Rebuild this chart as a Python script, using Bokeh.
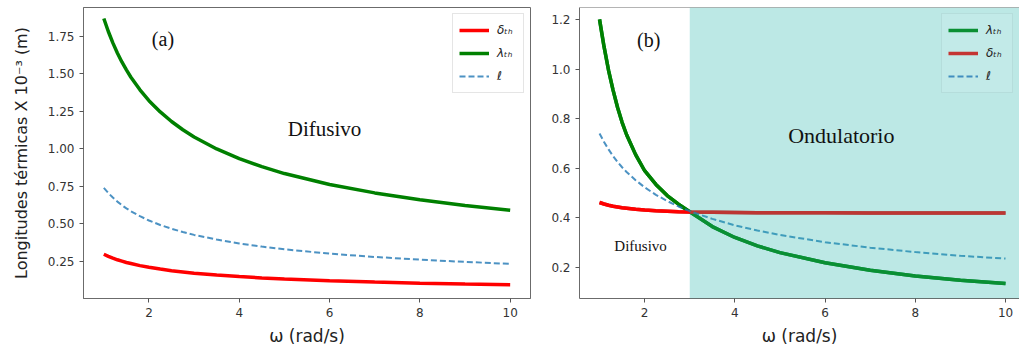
from bokeh.plotting import figure
from bokeh.layouts import row
from bokeh.models import (BoxAnnotation, Label, FixedTicker, PrintfTickFormatter, Span,
                          Legend, LegendItem)
from bokeh.embed import file_html
from bokeh.resources import INLINE

# ---- data ----
omega = [1, 1.1, 1.2, 1.3, 1.4, 1.5, 1.6, 1.8, 2, 2.25, 2.5, 2.75, 3,
         3.5, 4, 4.5, 5, 6, 7, 8, 9, 10]

# panel (a)
delta_a = [0.298, 0.284, 0.272, 0.261, 0.252, 0.243, 0.236, 0.222, 0.211, 0.199, 0.188,
           0.180, 0.172, 0.159, 0.149, 0.140, 0.133, 0.122, 0.113, 0.105, 0.099, 0.094]
lambda_a = [1.870, 1.783, 1.707, 1.640, 1.580, 1.527, 1.478, 1.394, 1.322, 1.247, 1.183,
            1.128, 1.080, 1.000, 0.935, 0.882, 0.836, 0.763, 0.707, 0.661, 0.623, 0.591]
ell_a = [0.740, 0.706, 0.676, 0.649, 0.625, 0.604, 0.585, 0.552, 0.523, 0.493, 0.468,
         0.446, 0.427, 0.396, 0.370, 0.349, 0.331, 0.302, 0.280, 0.262, 0.247, 0.234]

# panel (b)
lambda_b = [1.200, 1.090, 0.995, 0.915, 0.845, 0.785, 0.735, 0.655, 0.590, 0.535, 0.490,
            0.455, 0.425, 0.365, 0.321, 0.287, 0.260, 0.219, 0.189, 0.166, 0.149, 0.135]
delta_b = [0.462, 0.456, 0.451, 0.447, 0.444, 0.441, 0.439, 0.435, 0.432, 0.429, 0.427,
           0.425, 0.424, 0.423, 0.422, 0.421, 0.421, 0.421, 0.420, 0.420, 0.420, 0.420]
ell_b = [0.740, 0.706, 0.676, 0.649, 0.625, 0.604, 0.585, 0.552, 0.523, 0.493, 0.468,
         0.446, 0.427, 0.396, 0.370, 0.349, 0.331, 0.302, 0.280, 0.262, 0.247, 0.236]

omega_c = 3.0  # start of the wave-like (ondulatorio) region

x_ticks = [2, 4, 6, 8, 10]
y_ticks_a = [0.25, 0.50, 0.75, 1.00, 1.25, 1.50, 1.75]
y_ticks_b = [0.2, 0.4, 0.6, 0.8, 1.0, 1.2]

FRAME = "#6b6b6b"
TICKC = "#555555"
TEXTC = "#333333"


def style(p, yticks, yfmt):
    for ax in (p.xaxis, p.yaxis):
        ax.axis_line_color = FRAME
        ax.major_tick_line_color = TICKC
        ax.major_tick_out = 4
        ax.major_tick_in = 0
        ax.minor_tick_line_color = None
        ax.major_label_text_font = "DejaVu Sans"
        ax.major_label_text_font_size = "12px"
        ax.major_label_text_color = TEXTC
        ax.axis_label_text_font = "DejaVu Sans"
        ax.axis_label_text_font_style = "normal"
        ax.axis_label_text_color = "#222222"
    p.xaxis.ticker = FixedTicker(ticks=x_ticks)
    p.yaxis.ticker = FixedTicker(ticks=yticks)
    p.yaxis.formatter = PrintfTickFormatter(format=yfmt)
    p.xaxis.axis_label = "ω (rad/s)"
    p.xaxis.axis_label_text_font_size = "17px"
    p.xaxis.axis_label_standoff = 6
    p.xgrid.visible = False
    p.ygrid.visible = False
    p.background_fill_color = "white"
    p.border_fill_color = "white"


def style_legend(lg, bg="white", border="#cccccc"):
    lg.location = "top_right"
    lg.label_text_font = "DejaVu Sans"
    lg.label_text_font_style = "italic"
    lg.label_text_font_size = "12px"
    lg.label_text_color = "#222222"
    lg.glyph_width = 30
    lg.glyph_height = 20
    lg.spacing = 3
    lg.padding = 6
    lg.margin = 6
    lg.label_standoff = 8
    lg.border_line_color = border
    lg.background_fill_color = bg
    lg.background_fill_alpha = 0.8


def serif_label(p, x, y, text, size, level="annotation"):
    p.add_layout(Label(x=x, y=y, text=text, text_font="Liberation Serif",
                       text_font_size=size, text_align="center", text_baseline="middle",
                       text_color="#111111", level=level))


# ---- panel (a) ----
pa = figure(width=535, height=353, output_backend="svg", toolbar_location=None,
            x_range=(0.55, 10.45), y_range=(0.003, 1.943),
            min_border_left=83, min_border_right=5, min_border_top=7, min_border_bottom=55)
style(pa, y_ticks_a, "%.2f")
pa.outline_line_color = FRAME
pa.yaxis.axis_label = "Longitudes térmicas X 10⁻³ (m)"
pa.yaxis.axis_label_text_font_size = "16px"
pa.yaxis.axis_label_standoff = 14

pa.line(omega, delta_a, line_color="red", line_width=3.5, legend_label="δₜₕ")
pa.line(omega, lambda_a, line_color="green", line_width=3.5, legend_label="λₜₕ")
pa.line(omega, ell_a, line_color="#1f77b4", line_alpha=0.8, line_width=2,
        line_dash="6 3", legend_label="ℓ")
style_legend(pa.legend[0])

serif_label(pa, 2.31, 1.73, "(a)", "20px")
serif_label(pa, 5.89, 1.13, "Difusivo", "21px")

# ---- panel (b) ----
pb = figure(width=484, height=353, output_backend="svg", toolbar_location=None,
            x_range=(0.556, 10.31), y_range=(0.075, 1.248),
            min_border_left=44, min_border_right=0, min_border_top=7, min_border_bottom=55)
style(pb, y_ticks_b, "%.1f")
pb.outline_line_color = None
pb.add_layout(Span(location=1.248, dimension="width", line_color=FRAME, line_width=1))

# legend swatches (drawn underneath the real curves): the reference legend sits
# under the shaded span, so its swatches look tinted
h_lam = pb.line(omega, lambda_b, line_color="#0a8f33", line_width=3.5)
h_del = pb.line(omega, delta_b, line_color="#c43533", line_width=3.5)

pb.line(omega, lambda_b, line_color="green", line_width=3.5)
pb.line(omega, delta_b, line_color="red", line_width=3.5)
h_ell = pb.line(omega, ell_b, line_color="#1f77b4", line_alpha=0.8, line_width=2,
                line_dash="6 3")

leg_b = Legend(items=[LegendItem(label="λₜₕ", renderers=[h_lam]),
                      LegendItem(label="δₜₕ", renderers=[h_del]),
                      LegendItem(label="ℓ", renderers=[h_ell])])
style_legend(leg_b, bg="#c2eae8", border="#a8cfcd")
leg_b.background_fill_alpha = 1.0
pb.add_layout(leg_b)

pb.add_layout(BoxAnnotation(left=omega_c, fill_color="#20b2aa", fill_alpha=0.3,
                            line_color=None, level="overlay"))

serif_label(pb, 2.09, 1.119, "(b)", "20px", level="overlay")
serif_label(pb, 6.36, 0.732, "Ondulatorio", "22px", level="overlay")
serif_label(pb, 1.91, 0.285, "Difusivo", "15px", level="overlay")

layout = row(pa, pb)
open("out.html", "w").write(file_html(layout, INLINE))
